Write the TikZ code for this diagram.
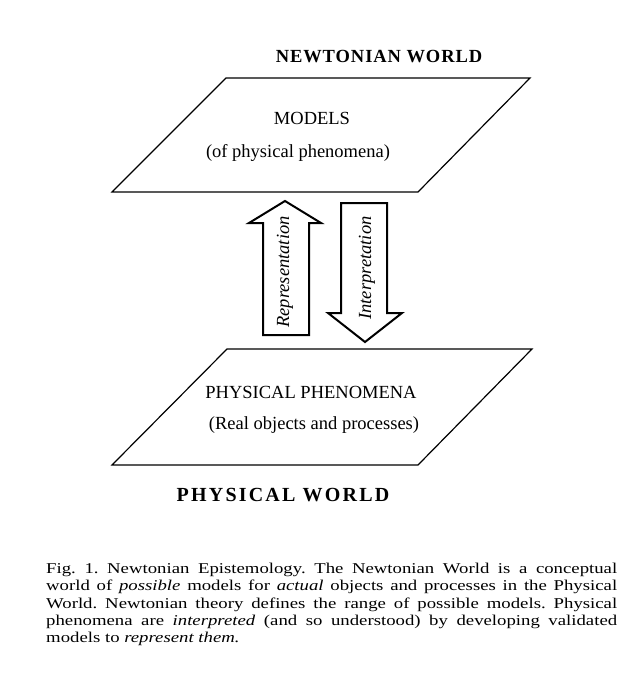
\documentclass[tikz,border=0pt]{standalone}
\usepackage{fontspec}
\setmainfont{Liberation Serif}
\newfontfamily\capfont[FakeStretch=1.25]{Liberation Serif}
\usetikzlibrary{positioning}

\begin{document}
\frenchspacing
\begin{tikzpicture}[x=1pt,y=-1pt,
    plane/.style={line width=1.2pt,line join=miter},
    blockarrow/.style={line width=2pt,line join=miter},
    planetext/.style={inner sep=0pt,font=\fontsize{18.5}{22}\selectfont},
    worldtext/.style={inner sep=0pt,font=\fontsize{18.5}{22}\selectfont\bfseries},
    arrowtext/.style={inner sep=0pt,rotate=90,font=\fontsize{18.5}{22}\selectfont\itshape}]
  \useasboundingbox (0,0) rectangle (637,695);

  % Newtonian world (upper plane)
  \node[worldtext] (newton) at (379,57) {\addfontfeature{LetterSpace=5}NEWTONIAN WORLD};
  \draw[plane] (226,78) -- (530,78) -- (418,192) -- (112,192) -- cycle;
  \node[planetext] (models) at (312,118) {MODELS};
  \node[planetext] (modelsub) at (298,153) {(of physical phenomena)};

  % physical world (lower plane)
  \draw[plane] (227,349) -- (532,349) -- (418,465) -- (112,465) -- cycle;
  \node[planetext] (phen) at (311,392) {PHYSICAL PHENOMENA};
  \node[planetext] (phensub) at (314,425) {(Real objects and processes)};
  \node[worldtext] (physical) at (283,495)
    {\fontsize{20}{24}\selectfont\addfontfeature{LetterSpace=11}PHYSICAL WORLD};

  % the two block arrows
  \draw[blockarrow] (263,335) -- (263,223) -- (249,223) -- (285,201)
    -- (321,223) -- (309,223) -- (309,335) -- cycle;
  \node[arrowtext] (repr) at (285,272) {Representation};
  \draw[blockarrow] (341,203) -- (387,203) -- (387,313) -- (402,313)
    -- (365,342) -- (328,313) -- (341,313) -- cycle;
  \node[arrowtext] (interp) at (367,268) {Interpretation};

  % caption
  \node[anchor=north west,inner sep=0pt,text width=571pt,align=justify,
        font=\capfont\fontsize{15}{17.3}\selectfont] (caption) at (46,563)
    {Fig. 1. Newtonian Epistemology. The Newtonian World is a conceptual\linebreak
     world of \textit{possible} models for \textit{actual} objects and processes in the Physical\linebreak
     World. Newtonian theory defines the range of possible models. Physical\linebreak
     phenomena are \textit{interpreted} (and so understood) by developing validated\linebreak
     models to \textit{represent them.}};
\end{tikzpicture}
\end{document}
